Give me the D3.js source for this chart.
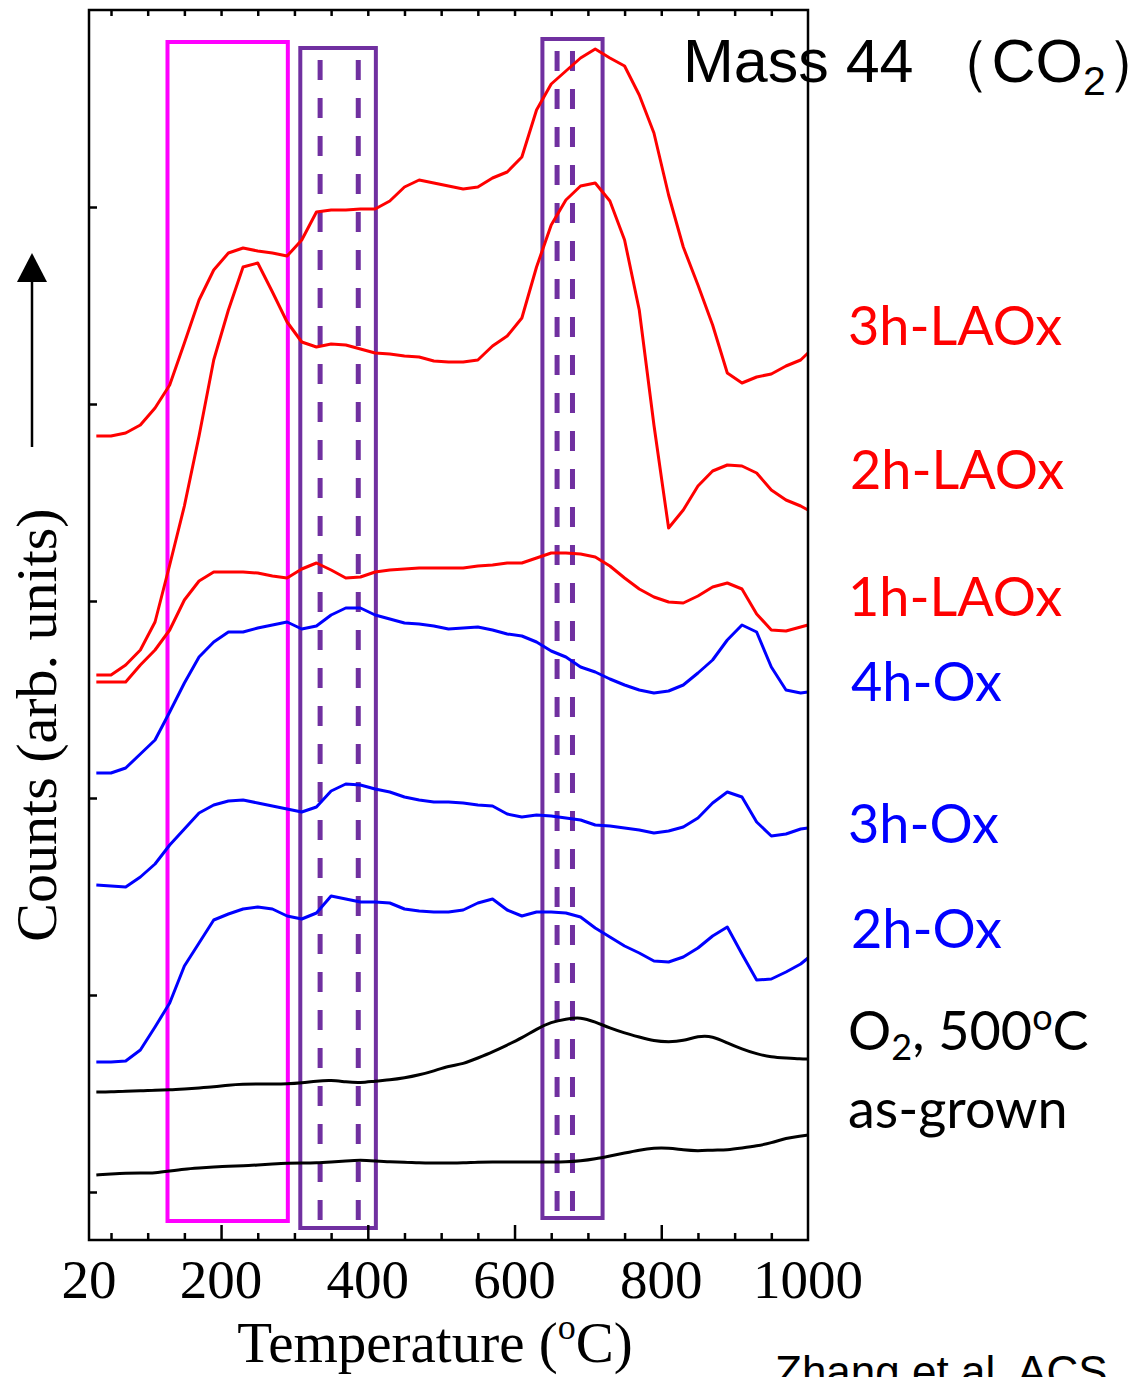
<!DOCTYPE html>
<meta charset="utf-8">
<style>
body { margin: 0; background: #fff; }
.axis path { display: none; }
.axis line { stroke: #000; stroke-width: 2.5px; }
.label { font-family: Lato, "Open Sans", sans-serif; font-size: 54px; }
.serif { font-family: "Liberation Serif", "Times New Roman", serif; }
</style>
<svg width="1145" height="1377"></svg>
<script src="https://d3js.org/d3.v7.min.js"></script>
<script>

// temperature grid (deg C), shared by every trace
var temps = [30, 50, 70, 90, 110, 130, 150, 170, 190, 210, 230, 250, 270, 290, 310, 330, 350, 370, 390, 410,
  430, 450, 470, 490, 510, 530, 550, 570, 590, 610, 630, 650, 670, 690, 710, 730, 750, 770, 790, 810,
  830, 850, 870, 890, 910, 930, 950, 970, 990, 1000];

// counts (arb. units), traces already offset as in the figure
var lao3h = [756, 756, 759, 767, 784, 807, 849, 892, 922, 939, 944, 941, 939, 936, 952, 980, 982, 982, 983, 983,
  991, 1005, 1012, 1009, 1006, 1003, 1005, 1014, 1020, 1035, 1082, 1108, 1121, 1134, 1143, 1134, 1126, 1097, 1059, 997,
  945, 907, 867, 819, 809, 815, 818, 826, 832, 839];
var lao2h = [517, 517, 527, 542, 570, 627, 686, 756, 832, 882, 925, 929, 900, 870, 850, 845, 848, 847, 843, 839,
  838, 836, 835, 831, 830, 830, 832, 846, 856, 874, 925, 967, 992, 1006, 1009, 991, 952, 882, 767, 664,
  682, 706, 721, 727, 726, 719, 702, 692, 686, 682];
var lao1h = [510, 510, 510, 527, 542, 562, 592, 611, 620, 620, 620, 619, 616, 614, 623, 629, 622, 614, 615, 620,
  622, 623, 624, 624, 624, 624, 626, 627, 629, 629, 634, 639, 639, 638, 635, 626, 614, 603, 595, 590,
  589, 596, 605, 609, 603, 578, 562, 561, 565, 567];
var ox4h = [419, 419, 424, 438, 452, 480, 509, 535, 550, 560, 560, 564, 567, 570, 563, 566, 577, 584, 584, 577,
  573, 569, 568, 566, 563, 564, 565, 562, 558, 556, 550, 541, 535, 525, 520, 513, 507, 502, 499, 501,
  507, 519, 532, 552, 567, 560, 525, 502, 499, 500];
var ox3h = [307, 306, 305, 315, 328, 347, 363, 379, 387, 391, 392, 389, 386, 383, 380, 385, 401, 408, 407, 403,
  400, 395, 392, 390, 390, 389, 387, 386, 378, 375, 377, 376, 374, 372, 367, 366, 364, 362, 359, 361,
  365, 374, 389, 400, 395, 370, 356, 358, 363, 364];
var ox2h = [130, 130, 131, 142, 165, 189, 226, 249, 272, 278, 283, 285, 283, 276, 273, 279, 296, 293, 290, 290,
  289, 283, 281, 280, 280, 282, 289, 293, 282, 276, 280, 280, 279, 275, 264, 255, 246, 239, 231, 230,
  235, 244, 256, 265, 238, 212, 213, 220, 228, 234];
var o2500 = [100, 100, 101, 101, 102, 102, 103, 104, 105, 107, 108, 108, 108, 108, 109, 111, 112, 110, 109, 111,
  112, 114, 117, 121, 126, 128, 134, 140, 147, 154, 163, 170, 173, 175, 170, 164, 159, 155, 151, 150,
  151, 156, 156, 149, 143, 138, 135, 134, 133, 133];
var asGrown = [17, 18, 19, 19, 19, 21, 23, 24, 25, 26, 26, 27, 28, 29, 29, 29, 30, 31, 32, 31,
  30, 30, 29, 29, 29, 29, 30, 30, 30, 30, 30, 30, 30, 31, 33, 36, 39, 42, 44, 44,
  42, 41, 42, 42, 44, 46, 49, 54, 56, 57];

var xTickLabels = [20, 200, 400, 600, 800, 1000];
var xMajor = [200, 400, 600, 800];
var xMinor = [50, 100, 150, 250, 300, 350, 450, 500, 550, 650, 700, 750, 850, 900, 950];
var yTicks = [0, 197, 394, 591, 788, 985];

// highlighted temperature windows [from, to]
var solidBoxes = [
  {t0: 127, t1: 291, top: 1150, bottom: -29, color: "#ff00ff"},
  {t0: 308, t1: 411, top: 1144, bottom: -36, color: "#7030a0"},
  {t0: 638, t1: 720, top: 1153, bottom: -26, color: "#7030a0"}
];
var dashedLines = [
  {t: 335, top: 1144, bottom: -36},
  {t: 387, top: 1144, bottom: -36},
  {t: 658, top: 1153, bottom: -26},
  {t: 679, top: 1153, bottom: -26}
];

var traces = [
  {name: "3h-LAOx", values: lao3h, color: "#ff0000", smooth: false, ly: 345, lx: 848},
  {name: "2h-LAOx", values: lao2h, color: "#ff0000", smooth: false, ly: 489, lx: 850},
  {name: "1h-LAOx", values: lao1h, color: "#ff0000", smooth: false, ly: 616, lx: 848},
  {name: "4h-Ox", values: ox4h, color: "#0000ff", smooth: false, ly: 701, lx: 851},
  {name: "3h-Ox", values: ox3h, color: "#0000ff", smooth: false, ly: 843, lx: 848},
  {name: "2h-Ox", values: ox2h, color: "#0000ff", smooth: false, ly: 948, lx: 851},
  {name: "o2", values: o2500, color: "#000000", smooth: true},
  {name: "as-grown", values: asGrown, color: "#000000", smooth: true, ly: 1128, lx: 848}
];

var svg = d3.select("svg");

var x = d3.scaleLinear().domain([20, 1000]).range([89, 808]);
var y = d3.scaleLinear().domain([-48, 1182]).range([1240, 10]);

//boxes first, traces on top
svg.append("g").selectAll("rect")
  .data(solidBoxes)
  .enter().append("rect")
  .attr("x", function(d) { return x(d.t0); })
  .attr("y", function(d) { return y(d.top); })
  .attr("width", function(d) { return x(d.t1) - x(d.t0); })
  .attr("height", function(d) { return y(d.bottom) - y(d.top); })
  .attr("fill", "none")
  .attr("stroke", function(d) { return d.color; })
  .attr("stroke-width", 4);

svg.append("g").selectAll("line")
  .data(dashedLines)
  .enter().append("line")
  .attr("x1", function(d) { return x(d.t); })
  .attr("x2", function(d) { return x(d.t); })
  .attr("y1", function(d) { return y(d.top) + 12; })
  .attr("y2", function(d) { return y(d.bottom); })
  .attr("stroke", "#7030a0")
  .attr("stroke-width", 5)
  .attr("stroke-dasharray", "20,18");

var line = d3.line()
  .x(function(d, i) { return x(temps[i]); })
  .y(function(d) { return y(d); });

svg.append("g").selectAll("path")
  .data(traces)
  .enter().append("path")
  .attr("fill", "none")
  .attr("stroke", function(d) { return d.color; })
  .attr("stroke-width", 3)
  .attr("stroke-linejoin", "round")
  .attr("d", function(d) {
    return line.curve(d.smooth ? d3.curveBasis : d3.curveLinear)(d.values);
  });

// frame
svg.append("rect")
  .attr("x", x(20)).attr("y", y(1182))
  .attr("width", x(1000) - x(20)).attr("height", y(-48) - y(1182))
  .attr("fill", "none").attr("stroke", "#000").attr("stroke-width", 2.5);

// ticks (all pointing inwards)
svg.append("g").attr("class", "axis")
  .attr("transform", "translate(0," + y(-48) + ")")
  .call(d3.axisBottom(x).tickValues(xMinor).tickSize(-7).tickFormat(""));
svg.append("g").attr("class", "axis")
  .attr("transform", "translate(0," + y(-48) + ")")
  .call(d3.axisBottom(x).tickValues(xMajor).tickSize(-15).tickFormat(""));
svg.append("g").attr("class", "axis")
  .attr("transform", "translate(0," + y(1182) + ")")
  .call(d3.axisTop(x).tickValues(xMinor.concat(xMajor)).tickSize(-6).tickFormat(""));
svg.append("g").attr("class", "axis")
  .attr("transform", "translate(" + x(20) + ",0)")
  .call(d3.axisLeft(y).tickValues(yTicks).tickSize(-8).tickFormat(""));

// tick labels
svg.append("g").selectAll("text")
  .data(xTickLabels)
  .enter().append("text")
  .attr("class", "serif")
  .attr("x", function(d) { return x(d); })
  .attr("y", 1298)
  .attr("text-anchor", "middle")
  .attr("font-size", 55)
  .text(function(d) { return d; });

// x title
var xt = svg.append("text").attr("class", "serif")
  .attr("x", 435).attr("y", 1362).attr("text-anchor", "middle").attr("font-size", 57);
xt.append("tspan").text("Temperature (");
xt.append("tspan").attr("font-size", 36).attr("dy", -23).text("o");
xt.append("tspan").attr("dy", 23).text("C)");

// y title
svg.append("text").attr("class", "serif")
  .attr("transform", "translate(56,725) rotate(-90)")
  .attr("text-anchor", "middle").attr("font-size", 58)
  .text("Counts (arb. units)");

// arrow
svg.append("line").attr("x1", 32).attr("x2", 32).attr("y1", 447).attr("y2", 278)
  .attr("stroke", "#000").attr("stroke-width", 2.5);
svg.append("path").attr("d", "M32,253 L17,282 L47,282 Z").attr("fill", "#000");

// trace labels
svg.append("g").selectAll("text")
  .data(traces.filter(function(d) { return d.ly && d.name !== "as-grown"; }))
  .enter().append("text")
  .attr("class", "label")
  .attr("x", function(d) { return d.lx; })
  .attr("y", function(d) { return d.ly; })
  .attr("fill", function(d) { return d.color; })
  .text(function(d) { return d.name; });

var o2 = svg.append("text").attr("class", "label").attr("x", 848).attr("y", 1050);
o2.append("tspan").text("O");
o2.append("tspan").attr("font-size", 36).attr("dy", 10).text("2");
o2.append("tspan").attr("dy", -10).text(", 500");
o2.append("tspan").attr("font-size", 36).attr("dy", -20).text("o");
o2.append("tspan").attr("dy", 20).text("C");

svg.append("text").attr("class", "label").attr("x", 848).attr("y", 1128).text("as-grown");

// title
var tt = svg.append("text").attr("x", 683).attr("y", 82)
  .attr("font-family", "Liberation Sans, Arial, sans-serif").attr("font-size", 61);
tt.append("tspan").text("Mass 44 （CO");
tt.append("tspan").attr("font-size", 41).attr("dy", 13).text("2");
tt.append("tspan").attr("dy", -13).text("）");

svg.append("text").attr("x", 775).attr("y", 1387)
  .attr("font-family", "Liberation Sans, Arial, sans-serif").attr("font-size", 44)
  .text("Zhang et al. ACS");

</script>
